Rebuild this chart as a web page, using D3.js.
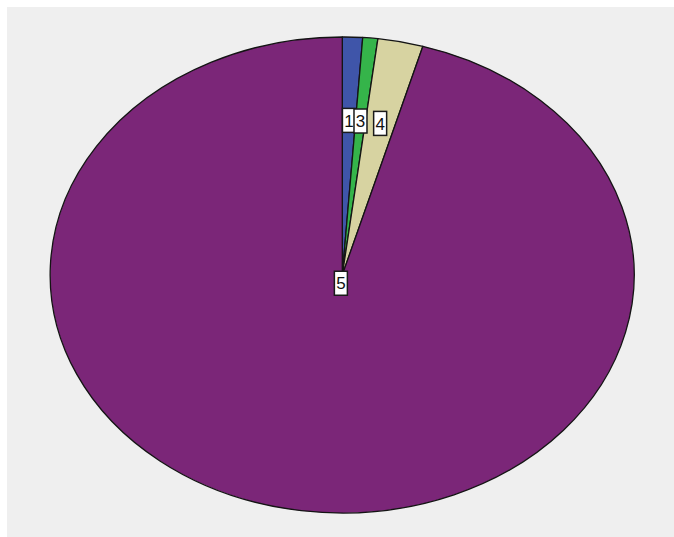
<!DOCTYPE html>
<html>
<head>
<meta charset="utf-8">
<script src="https://cdn.jsdelivr.net/npm/d3@7"></script>
<style>
  html, body { margin: 0; padding: 0; background: #ffffff; }
  svg { display: block; }
</style>
</head>
<body>
<svg id="chart" width="674" height="537"></svg>
<script>
// Category codes and their counts
const categories = ["1", "3", "4", "5"];
const counts = [4, 3, 9, 344];
const sliceColors = ["#3f55a9", "#35b44a", "#d7d3a1", "#7b2678"];

const width = 674, height = 537;
const svg = d3.select("#chart");

// Panel background
svg.append("rect")
  .attr("x", 7).attr("y", 7)
  .attr("width", width - 7).attr("height", height - 7)
  .attr("fill", "#efefef");

const cx = 342.3, cy = 275, rx = 292, ry = 238;

const pie = d3.pie().sort(null).value(d => d.value).startAngle(0).endAngle(2 * Math.PI);
const data = pie(categories.map((c, i) => ({ cat: c, value: counts[i], color: sliceColors[i] })));
const total = d3.sum(counts);

// Unit-circle arcs, stretched into an ellipse
const arc = d3.arc().innerRadius(0).outerRadius(1);

const g = svg.append("g").attr("transform", `translate(${cx},${cy})`);

g.append("g")
  .attr("transform", `scale(${rx},${ry})`)
  .selectAll("path")
  .data(data)
  .join("path")
  .attr("d", arc)
  .attr("fill", d => d.data.color)
  .attr("stroke", "#141414")
  .attr("stroke-width", 1.3)
  .attr("vector-effect", "non-scaling-stroke")
  .attr("stroke-linejoin", "round");

// Category labels in small boxed tags
const labelArc = d3.arc().innerRadius(0.65).outerRadius(0.65);
const centerArc = d3.arc().innerRadius(0.035).outerRadius(0.035);
const labels = g.append("g").selectAll("g")
  .data(data)
  .join("g")
  .attr("transform", d => {
    const a = d.data.value / total > 0.5 ? centerArc : labelArc;
    const [ux, uy] = a.centroid(d);
    return `translate(${ux * rx},${uy * ry})`;
  });

labels.append("rect")
  .attr("x", -6.5).attr("y", -12)
  .attr("width", 13).attr("height", 24)
  .attr("fill", "#ffffff")
  .attr("stroke", "#1a1a1a")
  .attr("stroke-width", 1.5);

labels.append("text")
  .attr("text-anchor", "middle")
  .attr("dy", "0.36em")
  .attr("font-family", "Liberation Sans, Arial, sans-serif")
  .attr("font-size", 17)
  .attr("fill", "#111")
  .text(d => d.data.cat);
</script>
</body>
</html>
